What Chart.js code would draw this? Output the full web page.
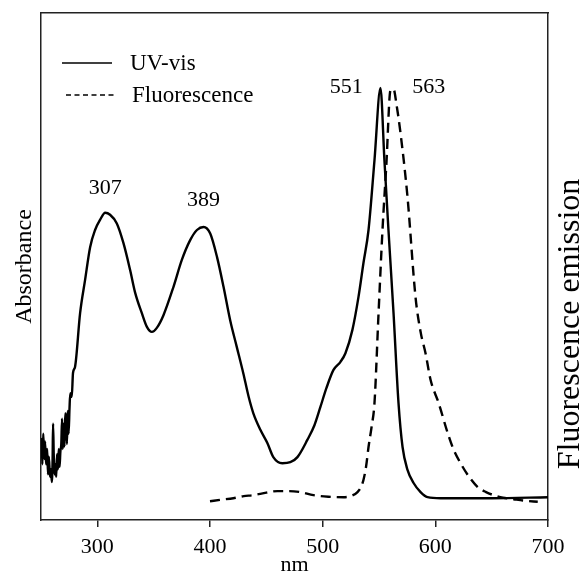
<!DOCTYPE html>
<html>
<head>
<meta charset="utf-8">
<script src="https://cdn.jsdelivr.net/npm/chart.js@4.4.1/dist/chart.umd.min.js"></script>
<style>
  html, body { margin: 0; padding: 0; background: #fff; }
  #wrap { width: 579px; height: 574px; position: relative; }
</style>
</head>
<body>
<div id="wrap"><canvas id="spectra"></canvas></div>
<script>
// wavelength ticks
const xTicks = [300, 400, 500, 600, 700];

// UV-vis absorbance (arbitrary units)
const uvNm = [250, 250.6, 251.2, 252, 253, 253.6, 254.5, 255.5, 256.2, 257, 258, 258.9, 259.6, 260.3, 260.7, 261.3, 262, 262.8,
  263.5, 264.2, 265, 265.8, 266.5, 267.2, 268, 268.7, 269.3, 270, 270.8, 271.5, 272.2, 273, 273.8, 274.5, 275.3, 276,
  277.3, 278.4, 280.2, 284.7, 289.1, 293.6, 298, 302.4, 307, 311.3, 317.3, 323.2, 329.1, 333.6, 339.5, 344, 348.4, 352.8,
  358.7, 367.6, 375, 382.4, 388.4, 394.3, 400.2, 406.2, 412, 417.9, 423.7, 429.6, 434.3, 438.4, 444.7, 450.9, 456.2,
  464.2, 471.3, 477.6, 486.4, 492.7, 498, 503.3, 509.6, 515.8, 520.2, 526.4, 531.8, 536.2, 540.7, 546, 551.3, 554.8,
  558.4, 562.9, 567.3, 570.9, 575.3, 580.7, 586.9, 593.1, 604.7, 650, 700];
const uvAbs = [14, 16, 11, 17, 12, 15.5, 11, 14, 9, 12.5, 8.5, 10, 7.5, 12, 19, 13, 9, 11,
  8.5, 13, 10, 14, 10.5, 13.5, 15, 20, 14, 19, 14.5, 21, 20.5, 15, 21.5, 17, 22, 25,
  24.3, 29, 30.2, 40.8, 47.3, 53.8, 57.2, 59.2, 60.6, 60.2, 58.5, 54.6, 49.3, 44.8, 40.8, 38.1, 37.1, 37.9,
  40.4, 46, 51.3, 55.2, 57.2, 57.8, 56.5, 51.9, 46, 39.4, 34.2, 28.9, 24.3, 21.1, 17.8, 15.2, 12.4,
  11.2, 11.4, 12.4, 15.8, 18.7, 22.3, 26, 29.6, 31.2, 32.9, 37.5, 44, 50.7, 57.2, 71, 85.2, 71,
  57.2, 40.8, 23.1, 14.4, 9.9, 7.3, 5.5, 4.5, 4.3, 4.3, 4.5];

// fluorescence emission (arbitrary units)
const flNm = [400, 410, 420.7, 430, 438.4, 450, 459.8, 470, 480.2, 491.8, 505, 518.4, 526, 530.9, 534, 536.2, 538.5,
  540.7, 543.5, 546, 549.6, 553.1, 556.5, 560.2, 562.9, 565.5, 569.1, 575.3, 582.4, 587, 591.3, 595.8, 602.9, 610.9,
  616, 622.4, 630, 637.6, 645, 651.8, 660, 669.6, 680, 690.9];
const flEm = [3.7, 4.0, 4.3, 4.7, 4.9, 5.4, 5.7, 5.7, 5.5, 4.9, 4.6, 4.5, 4.8, 5.5, 6.5, 7.9, 10.5,
  14.4, 18.5, 23.1, 40.8, 57.2, 70, 84.8, 85, 82, 76.3, 63.7, 44, 37, 32.9, 27.6, 23.1, 17.2,
  14, 11.2, 8.5, 6.5, 5.5, 4.9, 4.4, 4.1, 3.8, 3.6];

// peak annotations
const peakNm = [307, 389, 551, 563];
const peakSeries = [0, 0, 0, 1];

const serif = '"Liberation Serif", "Times New Roman", serif';

function toPoints(xs, ys) {
  return xs.map((x, i) => ({ x: x, y: ys[i] }));
}

// legend, peak labels and the right-hand title
const decorPlugin = {
  id: 'decor',
  afterDraw(chart) {
    const ctx = chart.ctx;
    const area = chart.chartArea;
    const xs = chart.scales.x;
    const ys = chart.scales.y;
    ctx.save();
    ctx.fillStyle = '#000';
    ctx.strokeStyle = '#000';

    // legend
    ctx.font = '23px ' + serif;
    ctx.textBaseline = 'middle';
    ctx.textAlign = 'left';
    chart.data.datasets.forEach((ds, i) => {
      const y = area.top + 50 + i * 32;
      ctx.lineWidth = 1.5;
      ctx.setLineDash(i === 0 ? [] : [5, 3.5]);
      ctx.beginPath();
      ctx.moveTo(area.left + 21 + i * 4, y);
      ctx.lineTo(area.left + 71 + i * 3, y);
      ctx.stroke();
      ctx.setLineDash([]);
      ctx.fillText(ds.label, area.left + 89 + i * 2, y + 1);
    });

    // peak labels
    const offs = [[0, -25], [6, -30], [-34, -1], [35, -2]];
    ctx.font = '22px ' + serif;
    ctx.textAlign = 'center';
    peakNm.forEach((nm, i) => {
      const ds = chart.data.datasets[peakSeries[i]].data;
      let best = ds[0];
      ds.forEach(p => { if (Math.abs(p.x - nm) < Math.abs(best.x - nm)) best = p; });
      const px = xs.getPixelForValue(nm) + offs[i][0];
      const py = ys.getPixelForValue(best.y) + offs[i][1];
      ctx.fillText(String(nm), px, py);
    });

    // right title, reading bottom to top
    ctx.font = '32px ' + serif;
    ctx.textBaseline = 'alphabetic';
    ctx.translate(chart.width, area.bottom - 196);
    ctx.rotate(-Math.PI / 2);
    ctx.fillText('Fluorescence emission', 0, 0);
    ctx.restore();
  }
};

const config = {
  type: 'line',
  data: {
    datasets: [
      {
        label: 'UV-vis',
        data: toPoints(uvNm, uvAbs),
        borderColor: '#000',
        borderWidth: 2.4,
        pointRadius: 0,
        fill: false,
        cubicInterpolationMode: 'monotone',
        yAxisID: 'y'
      },
      {
        label: 'Fluorescence',
        data: toPoints(flNm, flEm),
        borderColor: '#000',
        borderWidth: 2.4,
        borderDash: [10, 6],
        pointRadius: 0,
        fill: false,
        cubicInterpolationMode: 'monotone',
        yAxisID: 'y2'
      }
    ]
  },
  options: {
    responsive: true,
    maintainAspectRatio: false,
    animation: false,
    layout: { padding: { top: 13, left: 0, right: 0, bottom: 0 } },
    plugins: {
      legend: { display: false },
      tooltip: { enabled: false }
    },
    scales: {
      x: {
        type: 'linear',
        position: 'bottom',
        min: 250,
        max: 700,
        afterBuildTicks: (scale) => { scale.ticks = xTicks.map(v => ({ value: v })); },
        afterFit: (scale) => { scale.height = 54; },
        grid: { display: true, drawOnChartArea: false, drawTicks: true, tickLength: 7, color: '#222', lineWidth: 1.5 },
        border: { display: true, color: '#222', width: 1.5 },
        ticks: { color: '#000', font: { family: serif, size: 22 }, padding: 7, maxRotation: 0 },
        title: { display: true, text: 'nm', color: '#000', font: { family: serif, size: 22, lineHeight: 0.8 }, padding: { top: 0, bottom: 0 } }
      },
      xTop: {
        type: 'linear',
        position: 'top',
        min: 250,
        max: 700,
        display: true,
        afterFit: (scale) => { scale.height = 0; },
        grid: { display: false },
        ticks: { display: false },
        border: { display: true, color: '#222', width: 1.5 }
      },
      y: {
        position: 'left',
        min: 0,
        max: 100,
        afterFit: (scale) => { scale.width = 41; },
        grid: { display: false },
        ticks: { display: false },
        border: { display: true, color: '#222', width: 1.5 },
        title: { display: true, text: 'Absorbance', color: '#000', font: { family: serif, size: 24 }, padding: { top: 10, bottom: 0 } }
      },
      y2: {
        position: 'right',
        min: 0,
        max: 100,
        afterFit: (scale) => { scale.width = 31; },
        grid: { display: false },
        ticks: { display: false },
        border: { display: true, color: '#222', width: 1.5 }
      }
    }
  },
  plugins: [decorPlugin]
};

new Chart(document.getElementById('spectra'), config);
</script>
</body>
</html>
